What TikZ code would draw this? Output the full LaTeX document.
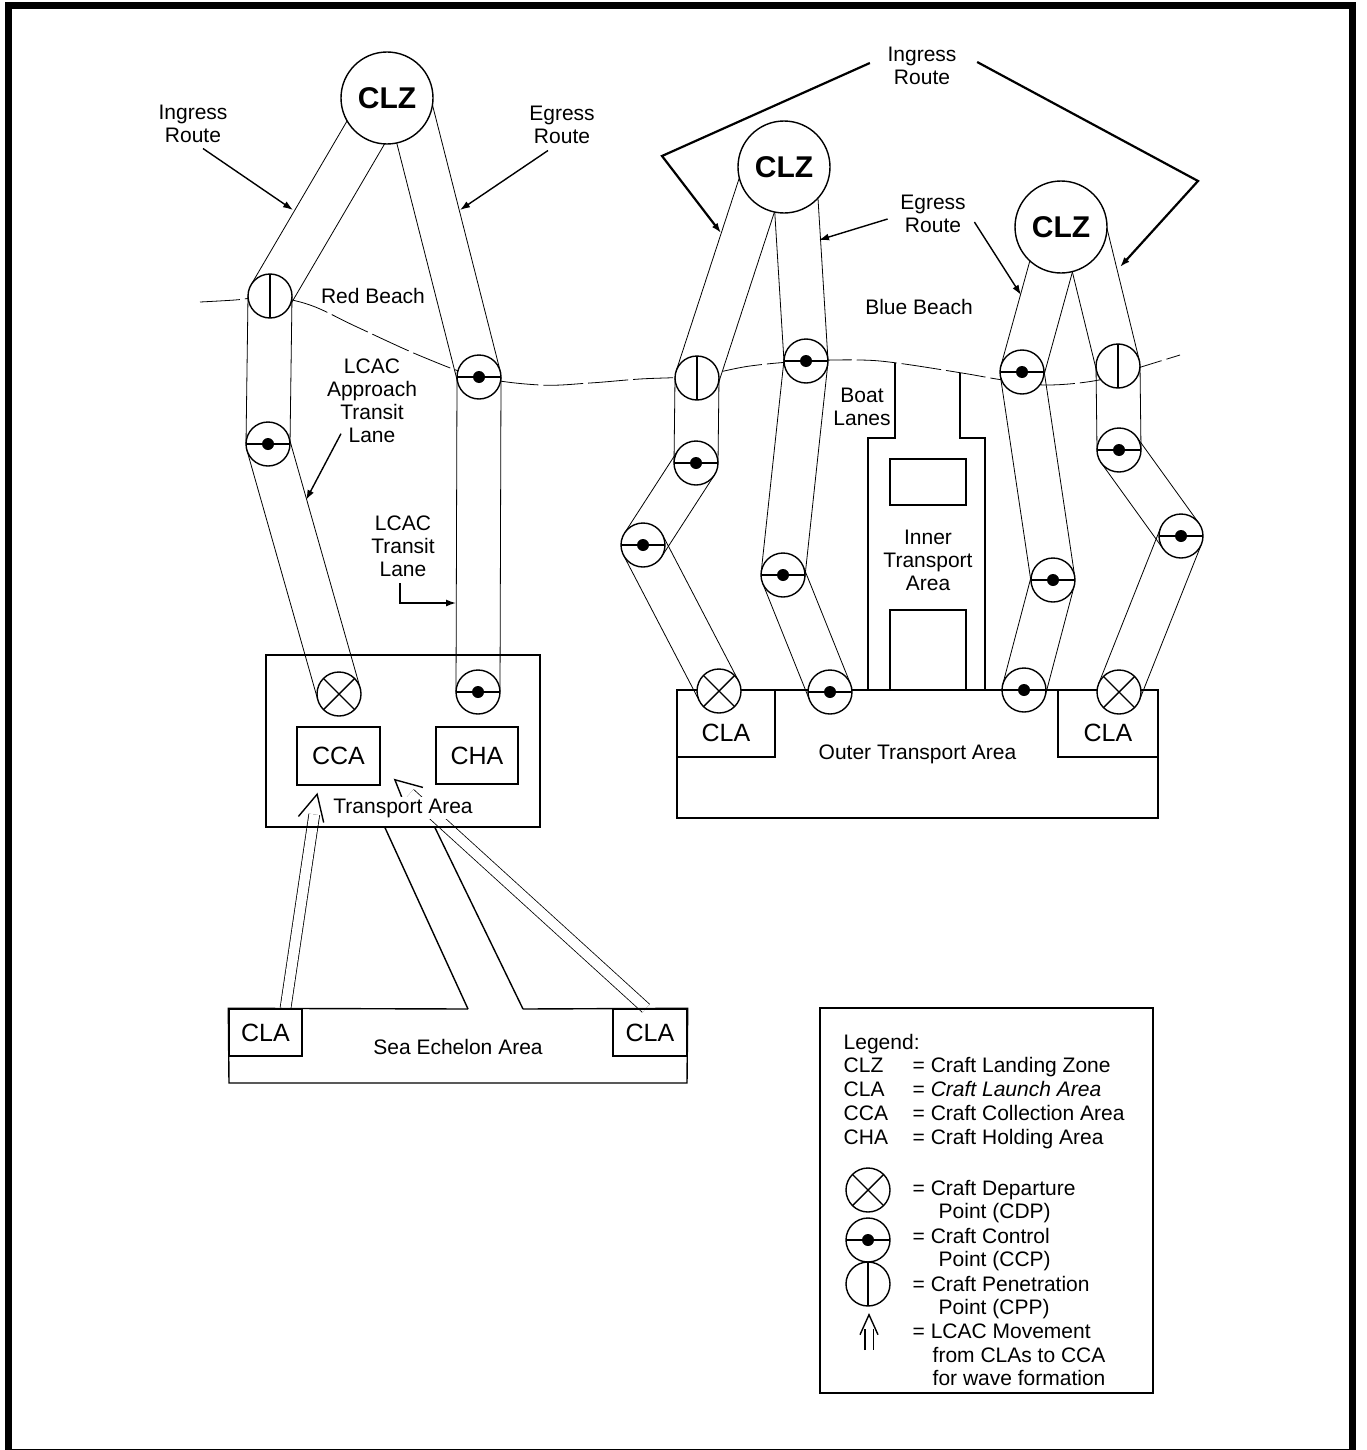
\documentclass[tikz,border=0pt]{standalone}
\usepackage{fontspec}
\setmainfont{Liberation Sans}
\usetikzlibrary{positioning, calc, arrows.meta, backgrounds}

\begin{document}
\begin{tikzpicture}[x=0.5pt, y=-0.5pt, line width=0.7pt,
    spot/.style={draw, circle, fill=white, inner sep=0pt, minimum size=22pt},
    cpp/.style={spot, path picture={\draw (path picture bounding box.north) -- (path picture bounding box.south);}},
    ccp/.style={spot, path picture={\draw (path picture bounding box.west) -- (path picture bounding box.east);
        \fill[black] (path picture bounding box.center) circle (3pt);}},
    cdp/.style={spot, path picture={\draw (path picture bounding box.north west) -- (path picture bounding box.south east)
        (path picture bounding box.north east) -- (path picture bounding box.south west);}},
    clz/.style={spot, minimum size=46pt, font=\fontsize{15}{15}\selectfont\bfseries},
    area/.style={draw, inner sep=0pt},
    big/.style={font=\fontsize{12.5}{12.5}\selectfont},
    lbl/.style={align=center, inner sep=1pt, font=\fontsize{10.5}{11.5}\selectfont},
    leg/.style={anchor=base west, inner sep=0pt, font=\fontsize{10.5}{11.5}\selectfont},
    tip/.style={-{Latex[length=5pt, width=3.5pt]}},
    mv/.style={double, double distance=5pt, shorten >=11pt},
    mvhead/.style={-{Straight Barb[length=13pt, width=13pt]}},
    beach/.style={dash pattern=on 20pt off 2.5pt}]
    \useasboundingbox (0,0) rectangle (1366,1450);
    \draw[line width=3.5pt] (8.5,6) rectangle (1352,1452);

    % areas
    \node[area, minimum width=137pt, minimum height=86pt] (ta) at (403,741) {};
    \node[area, minimum width=41.5pt, minimum height=29pt, big] (cca) at (338.5,756) {CCA};
    \node[area, minimum width=41pt, minimum height=28.5pt, big] (cha) at (477,755.5) {CHA};
    \node[area, minimum width=36.5pt, minimum height=23.5pt, big] (claC) at (265.5,1032.5) {CLA};
    \node[area, minimum width=37pt, minimum height=23.5pt, big] (claD) at (650,1032.5) {CLA};
    \draw (468,1009) -- (claC.north west) -- (229,1083) -- (687,1083) -- (claD.north east) -- (523,1009);
    \draw ([xshift=-9pt]ta.south) -- (468,1009);
    \draw ([xshift=16pt]ta.south) -- (523,1009);
    \node[area, minimum width=240.5pt, minimum height=64pt, font=\fontsize{10.5}{11.5}\selectfont] (ota) at (917.5,754) {Outer Transport Area};
    \node[area, minimum width=49pt, minimum height=33.5pt] (claA) at (726,723.5) {};
    \node[area, minimum width=50pt, minimum height=33.5pt] (claB) at (1108,723.5) {};
    \node[big] at ([yshift=-4.5pt]claA.center) {CLA};
    \node[big] at ([yshift=-4.5pt]claB.center) {CLA};
    \draw (868,690) -- (868,438) -- (895,438) -- (895,362.5);
    \draw (985,690) -- (985,438) -- (960,438) -- (960,372.5);
    \draw (890,459) rectangle (966,505);
    \draw (890,690) rectangle (966,610);

    % red beach
    \node[clz] (clzA) at (387,98) {CLZ};
    \node[cpp] (cppA) at (270,296) {};
    \node[ccp] (ccpA) at (268,444) {};
    \node[cdp] (cdpA) at (339,694) {};
    \node[ccp] (ccpB) at (479,377) {};
    \node[ccp] (ccpC) at (478,692) {};
    \coordinate (aimA1) at (386,98);
    \coordinate (aimA2) at (408,98);

    % blue beach
    \node[clz] (clzB) at (784,167) {CLZ};
    \node[clz] (clzC) at (1061,227) {CLZ};
    \node[cpp] (cppB) at (697,378) {};
    \node[ccp] (ccpD) at (696,463) {};
    \node[ccp] (ccpE) at (643,545) {};
    \node[cdp] (cdpB) at (719,691) {};
    \node[ccp] (ccpF) at (806,361) {};
    \node[ccp] (ccpG) at (783,575) {};
    \node[ccp] (ccpH) at (830,692) {};
    \node[ccp] (ccpI) at (1022,372) {};
    \node[ccp] (ccpJ) at (1053,580) {};
    \node[ccp] (ccpK) at (1024,690) {};
    \node[cpp] (cppC) at (1118,366) {};
    \node[ccp] (ccpL) at (1119,450) {};
    \node[ccp] (ccpM) at (1181,536) {};
    \node[cdp] (cdpC) at (1119,692) {};
    \coordinate (aimB1) at (766,167);
    \coordinate (aimB2) at (794,167);
    \coordinate (aimC1) at (1062,227);
    \coordinate (aimC2) at (1084,227);

    \begin{scope}[on background layer]
        \foreach \a/\b in {cppA/aimA1, cppA/ccpA, ccpA/cdpA, ccpB/aimA2, ccpB/ccpC,
                cppB/aimB1, cppB/ccpD, ccpD/ccpE, ccpE/cdpB, ccpF/aimB2, ccpF/ccpG, ccpG/ccpH,
                ccpI/aimC1, ccpI/ccpJ, ccpJ/ccpK, cppC/aimC2, cppC/ccpL, ccpL/ccpM, ccpM/cdpC}
            \draw ($(\a)!11pt!90:(\b)$) -- ($(\b)!11pt!-90:(\a)$)
                ($(\a)!11pt!-90:(\b)$) -- ($(\b)!11pt!90:(\a)$);
        \draw[beach] plot[smooth, tension=0.6] coordinates {(200,302) (235,300) (270,297) (310,305) (357,327)
            (423,357) (479,377) (540,385) (590,383) (640,379) (697,376) (750,366) (806,361) (860,360)
            (897,363) (962,373) (1003,380) (1047,385) (1099,380) (1141,367) (1180,355)};
        % movement of craft
        \coordinate (mvA) at ([xshift=-10.5pt, yshift=-3.5pt]cca.south);
        \coordinate (mvB) at ([xshift=6.5pt, yshift=3.5pt]cca.south east);
        \draw[mv] ([xshift=10pt]claC.north) -- (mvA);
        \draw[mv] ([xshift=-2pt]claD.north) -- (mvB);
    \end{scope}
    \draw[mvhead] ($(mvA)!1pt!(claC.north)$) -- (mvA);
    \draw[mvhead] ($(mvB)!1pt!(claD.north)$) -- (mvB);

    % labels
    \node[lbl] (ingA) at (193,124) {Ingress\\Route};
    \node[lbl] (egrA) at (562,125) {Egress\\Route};
    \node[lbl] (redB) at (373,296) {Red Beach};
    \node[lbl] (appr) at (372,401) {LCAC\\Approach\\Transit\\Lane};
    \node[lbl] (trA) at (403,546) {LCAC\\Transit\\Lane};
    \node[lbl, fill=white] (taText) at (403,808) {Transport Area};
    \node[lbl] (seaText) at (458,1047) {Sea Echelon Area};
    \node[lbl] (ingB) at (922,66) {Ingress\\Route};
    \node[lbl] (egrB) at (933,214) {Egress\\Route};
    \node[lbl] (blueB) at (919,307) {Blue Beach};
    \node[lbl] (boat) at (862,407) {Boat\\Lanes};
    \node[lbl] (ita) at (928,560) {Inner\\Transport\\Area};

    % pointers
    \coordinate (pA) at (293,210);
    \coordinate (pB) at (460,210);
    \coordinate (pC) at (306,500);
    \coordinate (pD) at (456,603);
    \coordinate (pE) at (721,233);
    \coordinate (pF) at (1120,267);
    \coordinate (pG) at (819,240);
    \coordinate (pH) at (1021,295);
    \draw[tip] ($(ingA.south)+(10,3)$) -- (pA);
    \draw[tip] ($(egrA.south)+(-14,4)$) -- (pB);
    \draw[tip] ($(appr.south)+(-31,-12)$) -- (pC);
    \draw[tip] ($(trA.south)+(-3,4)$) |- (pD);
    \draw[tip, line width=1.1pt] ($(ingB.west)+(-15,-3)$) -- (662,156) -- (pE);
    \draw[tip, line width=1.1pt] ($(ingB.east)+(18,-4)$) -- (1198,181) -- (pF);
    \draw[tip] ($(egrB.west)+(-10,5)$) -- (pG);
    \draw[tip] ($(egrB.east)+(6,8)$) -- (pH);

    % legend
    \node[draw, minimum width=166.5pt, minimum height=192.5pt] (legend) at (986.5,1200.5) {};
    \node[leg] at (843,1049.5) {Legend:};
    \node[leg] at (843,1072.5) {CLZ};
    \node[leg] at (843,1096.5) {CLA};
    \node[leg] at (843,1120.5) {CCA};
    \node[leg] at (843,1144.5) {CHA};
    \node[leg] at (912,1072.5) {= Craft Landing Zone};
    \node[leg] at (912,1096.5) {= \textit{Craft Launch Area}};
    \node[leg] at (912,1120.5) {= Craft Collection Area};
    \node[leg] at (912,1144.5) {= Craft Holding Area};
    \node[cdp] (legA) at (868,1190) {};
    \node[ccp] (legB) at (868,1240) {};
    \node[cpp] (legC) at (868,1284) {};
    \coordinate (legD) at (869,1350);
    \coordinate (legE) at (869,1313);
    \draw[mv, double distance=3.5pt, shorten >=8pt] (legD) -- (legE);
    \draw[-{Straight Barb[length=10pt, width=9pt]}] ($(legE)!1pt!(legD)$) -- (legE);
    \node[leg] at (912,1195.5) {= Craft Departure};
    \node[leg] at (938,1218.5) {Point (CDP)};
    \node[leg] at (912,1243.5) {= Craft Control};
    \node[leg] at (938,1266.5) {Point (CCP)};
    \node[leg] at (912,1291.5) {= Craft Penetration};
    \node[leg] at (938,1314.5) {Point (CPP)};
    \node[leg] at (912,1338.5) {= LCAC Movement};
    \node[leg] at (932,1362) {from CLAs to CCA};
    \node[leg] at (932,1385) {for wave formation};
\end{tikzpicture}
\end{document}
